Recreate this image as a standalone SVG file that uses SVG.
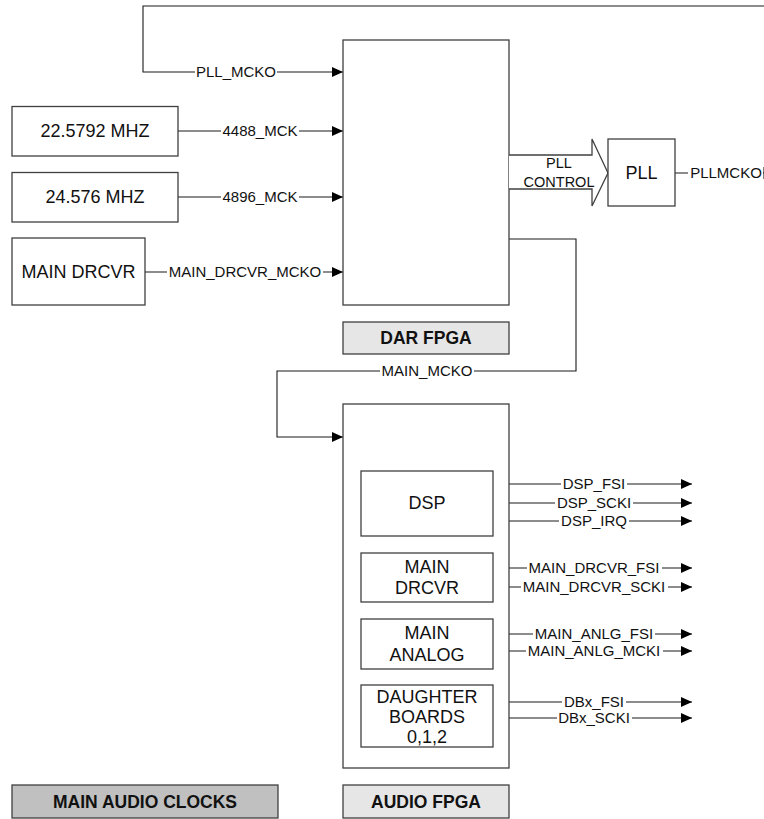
<svg xmlns="http://www.w3.org/2000/svg" width="764" height="819" viewBox="0 0 764 819">
<style>
.box{fill:#fff;stroke:#404040;stroke-width:1.3}
.lbl{stroke:#404040;stroke-width:1.3}
.ln{fill:none;stroke:#1a1a1a;stroke-width:1.1}
.bg{fill:#fff}
.t{font-family:"Liberation Sans",Arial,sans-serif;font-size:18px;fill:#111;text-anchor:middle}
.s{font-family:"Liberation Sans",Arial,sans-serif;font-size:15px;fill:#111;text-anchor:middle}
.c{font-family:"Liberation Sans",Arial,sans-serif;font-size:14.5px;fill:#111;text-anchor:middle}
.b{font-family:"Liberation Sans",Arial,sans-serif;font-size:17.5px;font-weight:bold;fill:#111;text-anchor:middle}
</style>
<defs>
<marker id="ar" markerUnits="userSpaceOnUse" markerWidth="11" markerHeight="10" refX="11" refY="5" orient="auto">
<path d="M0,0 L11,5 L0,10 z" fill="#000"/>
</marker>
</defs>
<rect width="764" height="819" fill="#fff"/>

<g id="connectors">
<path class="ln" d="M764,6 H143 V72 H343" marker-end="url(#ar)"/>
<path class="ln" d="M178,131 H343" marker-end="url(#ar)"/>
<path class="ln" d="M178,197 H343" marker-end="url(#ar)"/>
<path class="ln" d="M145,272 H343" marker-end="url(#ar)"/>
<path class="ln" d="M509,239 H576 V371 H277 V437 H343" marker-end="url(#ar)"/>
<path class="ln" d="M675,173 H764 M763,167 V179"/>
<path class="ln" d="M493,484 H692" marker-end="url(#ar)"/>
<path class="ln" d="M493,503 H692" marker-end="url(#ar)"/>
<path class="ln" d="M493,521 H692" marker-end="url(#ar)"/>
<path class="ln" d="M493,568 H692" marker-end="url(#ar)"/>
<path class="ln" d="M493,587 H692" marker-end="url(#ar)"/>
<path class="ln" d="M493,634 H692" marker-end="url(#ar)"/>
<path class="ln" d="M493,651 H692" marker-end="url(#ar)"/>
<path class="ln" d="M493,702 H692" marker-end="url(#ar)"/>
<path class="ln" d="M493,718 H692" marker-end="url(#ar)"/>

<rect class="bg" x="195" y="65" width="82" height="14"/>
<text class="s" x="236" y="77.4">PLL_MCKO</text>
<rect class="bg" x="221" y="124" width="78" height="14"/>
<text class="s" x="260" y="136.4">4488_MCK</text>
<rect class="bg" x="221" y="190" width="78" height="14"/>
<text class="s" x="260" y="202.4">4896_MCK</text>
<rect class="bg" x="167" y="265" width="156" height="14"/>
<text class="s" x="245" y="277.4">MAIN_DRCVR_MCKO</text>
<rect class="bg" x="380" y="364" width="94" height="14"/>
<text class="s" x="427" y="376.4">MAIN_MCKO</text>
<rect class="bg" x="688" y="165" width="75" height="16"/>
<text class="s" x="726" y="178.4">PLLMCKO</text>

<rect class="bg" x="561" y="477" width="66" height="14"/>
<text class="s" x="594" y="489.4">DSP_FSI</text>
<rect class="bg" x="555" y="496" width="78" height="14"/>
<text class="s" x="594" y="508.4">DSP_SCKI</text>
<rect class="bg" x="559" y="514" width="70" height="14"/>
<text class="s" x="594" y="526.4">DSP_IRQ</text>
<rect class="bg" x="527" y="561" width="135" height="14"/>
<text class="s" x="594" y="573.4">MAIN_DRCVR_FSI</text>
<rect class="bg" x="521" y="580" width="147" height="14"/>
<text class="s" x="594" y="592.4">MAIN_DRCVR_SCKI</text>
<rect class="bg" x="533" y="627" width="122" height="14"/>
<text class="s" x="594" y="639.4">MAIN_ANLG_FSI</text>
<rect class="bg" x="526" y="644" width="137" height="14"/>
<text class="s" x="594" y="656.4">MAIN_ANLG_MCKI</text>
<rect class="bg" x="562" y="695" width="64" height="14"/>
<text class="s" x="594" y="707.4">DBx_FSI</text>
<rect class="bg" x="557" y="711" width="75" height="14"/>
<text class="s" x="594" y="723.4">DBx_SCKI</text>
</g>

<g id="dar-fpga">
<rect class="box" x="343" y="40" width="166" height="265"/>
</g>
<g id="pll-control">
<path class="box" d="M509,155 H592 V139 L608,173 L592,206 V189 H509"/>
<text class="c" x="559" y="168">PLL</text>
<text class="c" x="559" y="187">CONTROL</text>
</g>
<g id="pll">
<rect class="box" x="608" y="139" width="67" height="67"/>
<text class="t" x="641.5" y="179.4">PLL</text>
</g>
<g id="osc-22">
<rect class="box" x="12" y="106.5" width="166" height="49.5"/>
<text class="t" x="95" y="137.4">22.5792 MHZ</text>
</g>
<g id="osc-24">
<rect class="box" x="12" y="172.5" width="166" height="49.5"/>
<text class="t" x="95" y="203.4">24.576 MHZ</text>
</g>
<g id="main-drcvr-src">
<rect class="box" x="12" y="238" width="133" height="67"/>
<text class="t" x="78.5" y="278.4">MAIN DRCVR</text>
</g>
<g id="dar-fpga-label">
<rect class="lbl" fill="#e6e6e6" x="343" y="322" width="166" height="32"/>
<text class="b" x="426" y="344.3">DAR FPGA</text>
</g>

<g id="audio-fpga">
<rect class="box" x="343" y="404" width="166" height="364"/>
</g>
<g id="dsp">
<rect class="box" x="361" y="471" width="132" height="65"/>
<text class="t" x="427" y="509.4">DSP</text>
</g>
<g id="main-drcvr">
<rect class="box" x="361" y="553" width="132" height="49"/>
<text class="t" x="427" y="573.4">MAIN</text>
<text class="t" x="427" y="594.4">DRCVR</text>
</g>
<g id="main-analog">
<rect class="box" x="361" y="619" width="132" height="50"/>
<text class="t" x="427" y="639.4">MAIN</text>
<text class="t" x="427" y="661.4">ANALOG</text>
</g>
<g id="daughter-boards">
<rect class="box" x="361" y="685" width="132" height="62"/>
<text class="t" x="427" y="703.4">DAUGHTER</text>
<text class="t" x="427" y="723.4">BOARDS</text>
<text class="t" x="427" y="743.4">0,1,2</text>
</g>

<g id="main-audio-clocks-label">
<rect class="lbl" fill="#c0c0c0" x="12" y="785" width="266" height="33"/>
<text class="b" x="145" y="807.8">MAIN AUDIO CLOCKS</text>
</g>
<g id="audio-fpga-label">
<rect class="lbl" fill="#e6e6e6" x="343" y="785" width="166" height="33"/>
<text class="b" x="426" y="807.8">AUDIO FPGA</text>
</g>
</svg>
